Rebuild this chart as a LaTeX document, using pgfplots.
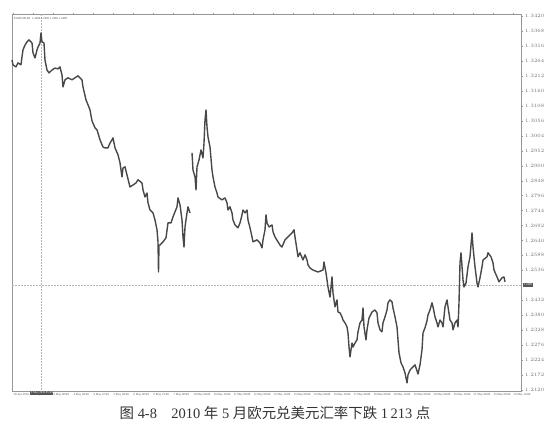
\documentclass[border=0pt]{standalone}
\usepackage{pgfplots}
\pgfplotsset{compat=1.18}
\usepackage{fontspec}
\setmainfont{Liberation Serif}
\newfontfamily\cjk{Noto Sans CJK SC}
\definecolor{bar}{RGB}{72,72,72}
\definecolor{frame}{RGB}{150,150,150}
\definecolor{lbl}{RGB}{110,110,110}
\definecolor{box}{RGB}{85,85,85}
\begin{document}
\begin{tikzpicture}
\path[use as bounding box] (0,0) rectangle (545bp,432bp);
\begin{axis}[
  at={(12bp,41bp)}, anchor=south west,
  scale only axis, width=509bp, height=377bp,
  xmin=0, xmax=509, ymin=1.2116, ymax=1.3428,
  clip=false,
  axis line style={frame, line width=0.5pt},
  tick style={frame, line width=0.3pt},
  tick align=outside, major tick length=1.5pt,
  ytick pos=right, yticklabel pos=right,
  ytick={1.2120,1.2172,1.2224,1.2276,1.2328,1.2380,1.2432,1.2536,1.2588,1.2640,1.2692,1.2744,1.2796,1.2848,1.2900,1.2952,1.3004,1.3056,1.3108,1.3160,1.3212,1.3264,1.3316,1.3368,1.3420},
  yticklabel style={font=\fontsize{3}{3.5}\selectfont, text=lbl, xshift=-1pt},
  yticklabel={\pgfmathprintnumber[fixed,fixed zerofill,precision=4]{\tick}},
  xtick={1,21,...,501},
  xticklabels={30 Apr 2010,30 Apr 16:00,3 May 08:00,4 May 00:00,4 May 16:00,5 May 08:00,6 May 00:00,6 May 16:00,7 May 08:00,10 May 00:00,10 May 16:00,11 May 08:00,12 May 00:00,12 May 16:00,13 May 08:00,14 May 00:00,14 May 16:00,17 May 08:00,18 May 00:00,18 May 16:00,19 May 08:00,20 May 00:00,20 May 16:00,21 May 08:00,24 May 00:00,24 May 16:00},
  xticklabel style={font=\fontsize{3}{3.5}\selectfont, text=lbl!80!black, anchor=north west, inner sep=0.5pt, yshift=-0.5pt},
]
% crosshair and current price line
\draw[frame!70, densely dotted, line width=0.5pt] (axis cs:29,1.2116) -- (axis cs:29,1.3428);
\draw[frame!70, densely dotted, line width=0.5pt] (axis cs:0,1.2485) -- (axis cs:509,1.2485);

% EURUSD H1, 30 Apr - 24 May 2010
\addplot[bar, line width=1.4pt, line join=round] coordinates {
(0,1.3268) (1,1.3251) (4,1.3244) (6,1.3258) (9,1.3251) (10,1.3279) (11,1.3303)
(13,1.3320) (15,1.3331) (17,1.3338) (20,1.3327) (21,1.3293) (23,1.3275) (25,1.3303)
(26,1.3313) (28,1.3327) (29,1.3362) (30,1.3331) (32,1.3327) (33,1.3268) (35,1.3233)
(37,1.3223) (40,1.3233) (43,1.3240) (46,1.3237) (48,1.3244) (50,1.3216) (51,1.3174)
(53,1.3199) (56,1.3206) (60,1.3199) (63,1.3206) (66,1.3213) (68,1.3206) (70,1.3199)
(71,1.3174) (74,1.3129) (76,1.3112) (78,1.3094) (80,1.3056) (83,1.3032) (85,1.3025)
(88,1.2990) (91,1.2965) (93,1.2962) (96,1.2962) (98,1.2979) (100,1.2990) (101,1.2997)
(103,1.2962) (106,1.2938) (108,1.2910) (110,1.2861) (111,1.2892) (113,1.2896) (115,1.2868)
(118,1.2826) (121,1.2833) (124,1.2840) (126,1.2851) (130,1.2840) (131,1.2816) (133,1.2791)
(135,1.2805) (136,1.2771) (138,1.2746) (141,1.2736) (143,1.2711) (145,1.2677) (146,1.2635)
(146.5,1.2530) (147,1.2624) (148,1.2624) (151,1.2635) (154,1.2649) (156,1.2701) (159,1.2701)
(161,1.2722) (165,1.2757) (166,1.2788) (168,1.2764) (170,1.2711) (171,1.2652) (172,1.2617)
(173,1.2687) (175,1.2736) (176,1.2757) (178,1.2736)
};
\addplot[bar, line width=1.4pt, line join=round] coordinates {
(180,1.2945) (181,1.2885) (183,1.2861) (184,1.2816) (185,1.2896) (187,1.2920) (189,1.2955)
(191,1.2927) (192,1.2979) (193,1.3059) (194,1.3094) (195,1.3035) (196,1.3000) (198,1.2965)
(200,1.2885) (201,1.2861) (203,1.2826) (205,1.2805) (206,1.2791) (210,1.2781) (213,1.2788)
(215,1.2771) (216,1.2746) (218,1.2757) (220,1.2736) (221,1.2711) (223,1.2694) (225,1.2687)
(226,1.2684) (228,1.2701) (230,1.2729) (231,1.2746) (233,1.2736) (235,1.2746) (236,1.2711)
(238,1.2684) (240,1.2652) (241,1.2635) (245,1.2642) (248,1.2631) (250,1.2614) (251,1.2642)
(253,1.2677) (254,1.2729) (255,1.2701) (257,1.2687) (260,1.2694) (261,1.2670) (263,1.2652)
(266,1.2635) (268,1.2624) (270,1.2617) (273,1.2642) (276,1.2652) (280,1.2666) (282,1.2677)
(283,1.2652) (285,1.2607) (286,1.2583) (288,1.2597) (291,1.2572) (293,1.2590) (295,1.2572)
(296,1.2555) (298,1.2544) (301,1.2537) (306,1.2530) (311,1.2537) (312,1.2565) (314,1.2527)
(316,1.2478) (318,1.2443) (320,1.2513) (321,1.2457) (323,1.2409) (325,1.2433) (326,1.2391)
(328,1.2388) (330,1.2374) (331,1.2363) (333,1.2353) (335,1.2339) (336,1.2318) (337,1.2269)
(338,1.2235) (340,1.2283) (341,1.2269) (343,1.2283) (345,1.2294) (346,1.2322) (348,1.2353)
(350,1.2363) (351,1.2405) (352,1.2339) (354,1.2294) (355,1.2329) (357,1.2370) (360,1.2391)
(363,1.2398) (365,1.2388) (366,1.2353) (368,1.2329) (370,1.2322) (371,1.2353) (373,1.2374)
(375,1.2398) (376,1.2423) (378,1.2433) (380,1.2426) (381,1.2405) (383,1.2374) (385,1.2339)
(386,1.2294) (387,1.2249) (389,1.2214) (391,1.2200) (393,1.2179) (395,1.2144) (396,1.2172)
(398,1.2189) (401,1.2200) (403,1.2207) (405,1.2186) (406,1.2175) (408,1.2207) (410,1.2259)
(411,1.2318) (413,1.2336) (415,1.2360) (416,1.2381) (418,1.2398) (420,1.2423) (421,1.2409)
(423,1.2374) (425,1.2353) (426,1.2339) (428,1.2363) (430,1.2353) (431,1.2339) (433,1.2409)
(435,1.2433) (436,1.2409) (438,1.2363) (440,1.2353) (441,1.2329) (443,1.2353) (445,1.2363)
(446,1.2339) (447,1.2423) (448,1.2562) (449,1.2597) (451,1.2503) (452,1.2478) (454,1.2492)
(456,1.2548) (458,1.2583) (460,1.2666) (461,1.2617) (463,1.2548) (465,1.2492) (466,1.2478)
(468,1.2510) (470,1.2548) (471,1.2572) (475,1.2583) (476,1.2597) (479,1.2583) (481,1.2562)
(482,1.2537) (485,1.2513) (487,1.2496) (490,1.2510) (492,1.2513) (493,1.2496)
};

% chart header and the two dark label boxes
\node[anchor=north west, font=\fontsize{3}{3.5}\selectfont, text=black!70, inner sep=0pt]
  at (axis cs:2,1.3418) {EURUSD,H1\ \ 1.2484 1.2499 1.2482 1.2489};
\node[anchor=north west, fill=box, text=white, font=\fontsize{3}{3.5}\selectfont,
  inner sep=0.6pt, minimum width=23bp] at (axis cs:18,1.2116) {3 May 2010 05:00};
\node[anchor=west, fill=box, text=white, font=\fontsize{3}{3.5}\selectfont,
  inner sep=0.8pt] at (axis cs:511,1.2485) {1.2489};
\end{axis}
\node[text=black!80, font=\fontsize{14.5}{16}\selectfont] at (275bp,19bp)
  {{\cjk 图} 4-8\quad 2010 {\cjk 年} 5 {\cjk 月欧元兑美元汇率下跌} 1\,213 {\cjk 点}};
\end{tikzpicture}
\end{document}
